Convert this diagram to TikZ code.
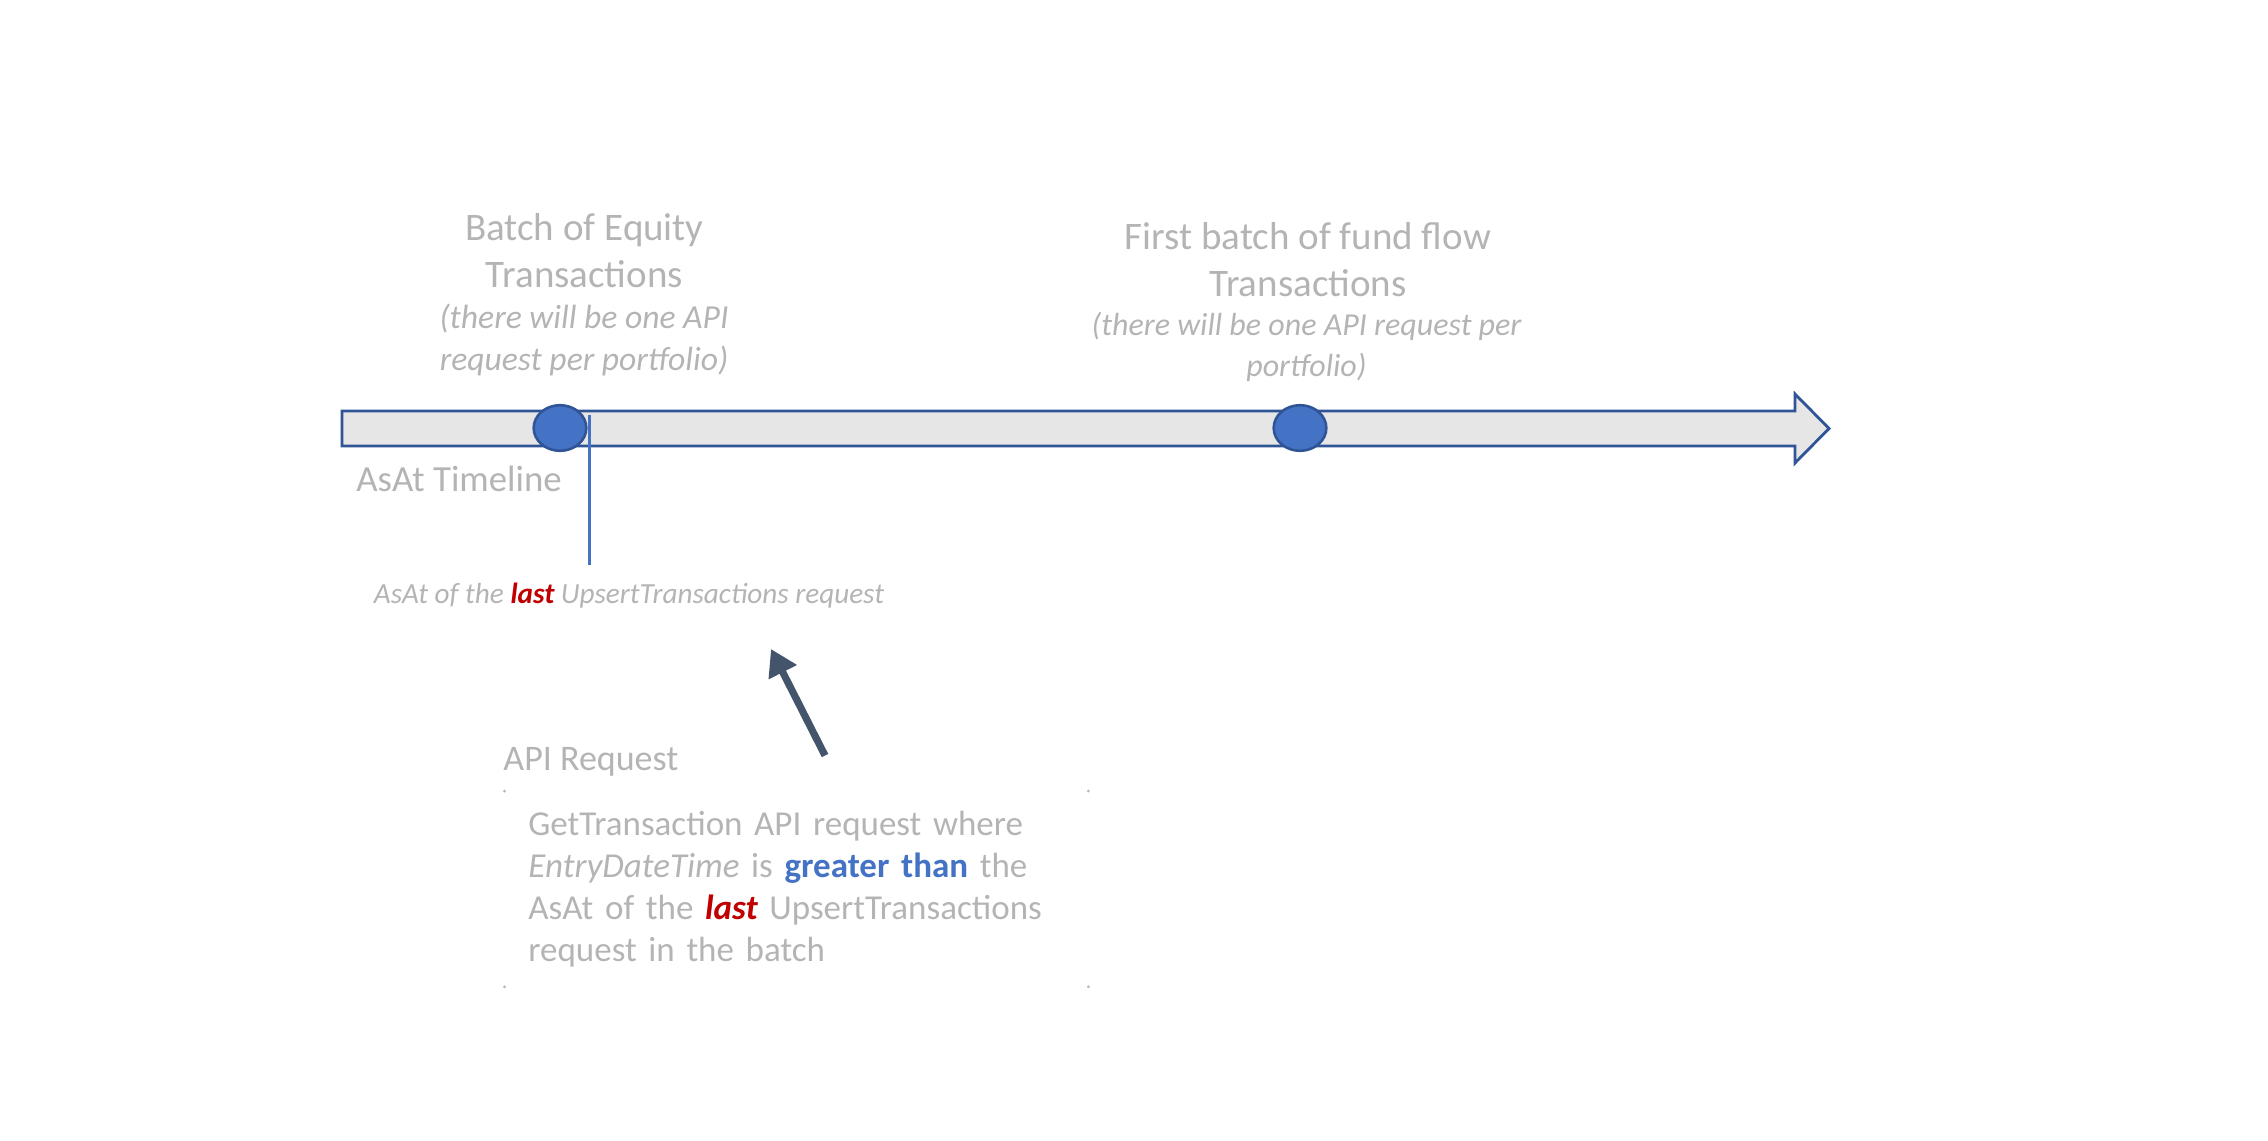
\documentclass[tikz,border=0pt]{standalone}
\usepackage{fontspec}
\setmainfont{Carlito}
\usetikzlibrary{arrows.meta,shapes.geometric}

\definecolor{barblue}{HTML}{2F5597}
\definecolor{dotblue}{HTML}{4472C4}
\definecolor{bargray}{HTML}{E7E6E6}
\definecolor{slate}{HTML}{44546A}
\definecolor{lastred}{HTML}{C00000}
\definecolor{ghost}{HTML}{B4B4B4}

\begin{document}
\begin{tikzpicture}[x=0.5pt,y=-0.5pt,>={Triangle[length=13pt,width=15pt]},
    label/.style={text=ghost,inner sep=0pt},
    marker/.style={ellipse,draw=barblue,fill=dotblue,line width=1.3pt,
                   minimum width=26.3pt,minimum height=22.8pt,inner sep=0pt}]
    \useasboundingbox (0,0) rectangle (2268,1140);

    % timeline
    \draw[barblue,fill=bargray,line width=1.4pt]
        (342,411) -- (1795,411) -- (1795,394) -- (1829,428.5)
        -- (1795,463) -- (1795,446) -- (342,446) -- cycle;
    \node[marker] (eq)   at (560,428)  {};
    \node[marker] (fund) at (1300,428) {};

    \node[label,font=\fontsize{19.5}{23.5}\selectfont,align=center] (eqtitle) at (584.5,251)
        {Batch of Equity\\Transactions};
    \node[label,font=\fontsize{16.8}{21}\selectfont\itshape,align=center] (eqnote) at (584,340)
        {(there will be one API\\request per portfolio)};
    \node[label,font=\fontsize{19.5}{23.5}\selectfont,align=center] (fundtitle) at (1308,260)
        {First batch of fund flow\\Transactions};
    \node[label,font=\fontsize{16}{20.5}\selectfont\itshape,align=center] (fundnote) at (1306.5,347)
        {(there will be one API request per\\portfolio)};

    \node[label,font=\fontsize{18.4}{22}\selectfont,anchor=west] (axis) at (356,478.5) {AsAt Timeline};

    % AsAt of the last request
    \coordinate (droptop) at (589,415);
    \coordinate (drop)    at (589,565);
    \draw[dotblue,line width=1.5pt] (droptop) -- (drop);
    \node[label,font=\fontsize{14.6}{17}\selectfont\itshape] (asat) at (629,596)
        {AsAt of the {\bfseries\color{lastred}last} UpsertTransactions request};

    \node[label,font=\fontsize{18}{22}\selectfont,anchor=west] (api) at (503,762) {API Request};
    \node[label,font=\fontsize{17.5}{21}\selectfont,anchor=north west,align=left,
          text width=268pt,inner xsep=11.75pt,minimum height=97.5pt] (reqbox) at (504.5,791)
        {GetTransaction API request where\\
         \textit{EntryDateTime} is \textbf{\color{dotblue}greater than} the\\
         AsAt of the \textbf{\textit{\color{lastred}last}} UpsertTransactions\\
         request in the batch};
    \foreach \c in {north west,north east,south west,south east}
        \fill[ghost] (reqbox.\c) circle (1.5);

    % request points back at the AsAt
    \coordinate (tail) at (825,755.5);
    \coordinate (tip)  at (771,649);
    \draw[->,slate,line width=3.6pt] (tail) -- (tip);
\end{tikzpicture}
\end{document}
